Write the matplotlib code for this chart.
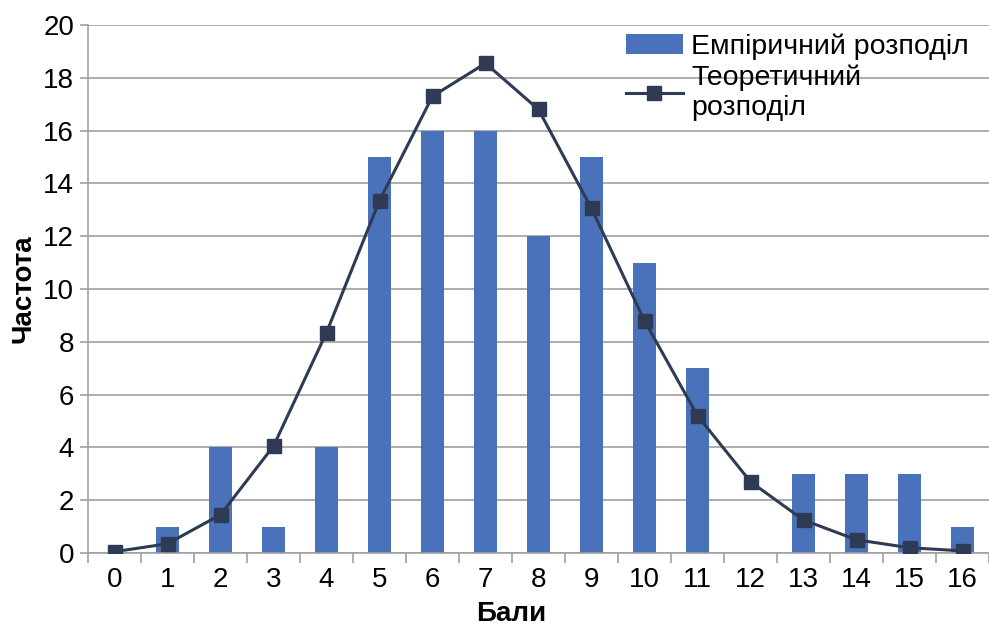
import matplotlib.pyplot as plt
import numpy as np

plt.rcParams['font.family'] = ['Liberation Sans', 'DejaVu Sans']

scores = list(range(17))
empirical = [0, 1, 4, 1, 4, 15, 16, 16, 12, 15, 11, 7, 0, 3, 3, 3, 1]
theoretical = [0.05, 0.35, 1.45, 4.05, 8.35, 13.35, 17.3, 18.55, 16.8, 13.05,
               8.8, 5.2, 2.7, 1.25, 0.5, 0.2, 0.08]

fig = plt.figure(figsize=(9.89, 6.27), dpi=100)
ax = fig.add_axes([88 / 989, 74 / 627, 901 / 989, 528 / 627])

bars = ax.bar(scores, empirical, width=0.42, color='#4A72BA', zorder=2)
line, = ax.plot(scores, theoretical, color='#2F3B54', lw=2.2, marker='s', ms=10,
                zorder=3)

ax.set_xlim(-0.5, 16.5)
ax.set_ylim(0, 20)
ax.set_yticks(range(0, 21, 2))
ax.set_xticks(scores)
ax.set_xticks(np.arange(-0.5, 17, 1), minor=True)
ax.tick_params(axis='x', which='major', length=0, labelsize=20, pad=10)
ax.tick_params(axis='x', which='minor', length=7, color='#A0A0A0', width=1.2)
ax.tick_params(axis='y', length=6, color='#A0A0A0', width=1.2, labelsize=20, pad=4)
ax.grid(axis='y', color='#A0A0A0', lw=1.2, zorder=0)
for s in ['top', 'right']:
    ax.spines[s].set_visible(False)
for s in ['left', 'bottom']:
    ax.spines[s].set_color('#A0A0A0')
    ax.spines[s].set_linewidth(1.2)

ax.set_xlabel('Бали', fontsize=20, fontweight='bold')
ax.xaxis.set_label_coords(0.47, -0.09)
ax.set_ylabel('Частота', fontsize=20, fontweight='bold')
ax.yaxis.set_label_coords(-0.057, 0.5)

leg = ax.legend([bars, line], ['Емпіричний розподіл', 'Теоретичний\nрозподіл'],
                loc='upper left', bbox_to_anchor=(606 / 989, 1 - 14 / 627),
                bbox_transform=fig.transFigure, frameon=False, fontsize=20.5,
                handlelength=2.0, handletextpad=0.3, labelspacing=0.15,
                borderpad=0.2)

fig.savefig('out.png', dpi=100)
